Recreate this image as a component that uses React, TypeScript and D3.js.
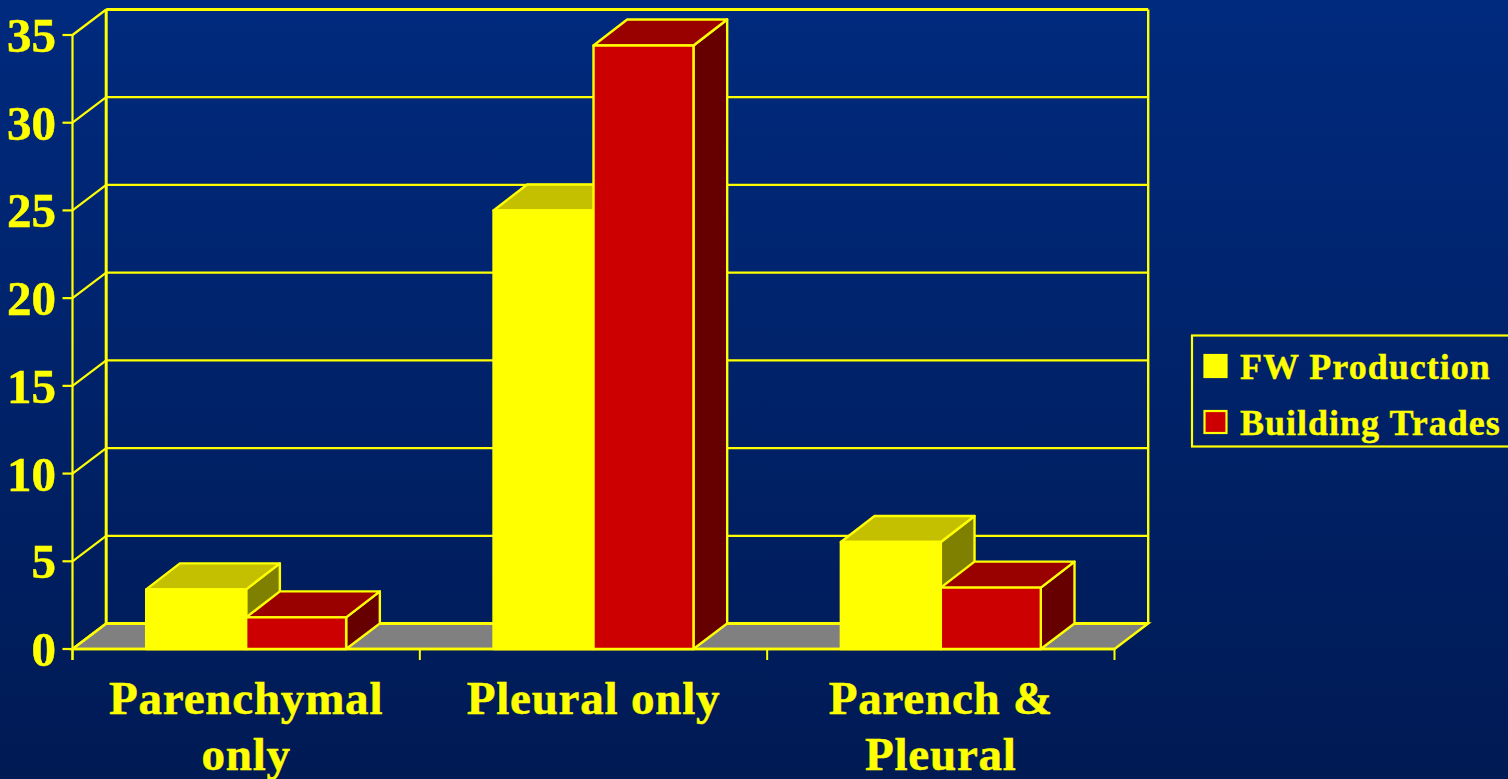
import React from "react";
import * as d3 from "d3";

const categories = ["Parenchymal only", "Pleural only", "Parench & Pleural"];
const categoryLines = [["Parenchymal", "only"], ["Pleural only"], ["Parench &", "Pleural"]];
const seriesNames = ["FW Production", "Building Trades"];
const fwProduction = [3.4, 25, 6.1];
const buildingTrades = [1.8, 34.4, 3.5];
const yTicks = [0, 5, 10, 15, 20, 25, 30, 35];

const W = 1508, H = 779;
const Y = "#ffff00";
const FONT = "'Liberation Serif', 'Times New Roman', serif";
const faces = [
  { front: "#ffff00", top: "#c4c000", side: "#808000" },
  { front: "#cc0000", top: "#990000", side: "#660000" },
];
const depthX = 33.7, depthY = -25.5, barDepthY = -26;

const x0 = d3.scaleBand<string>().domain(categories).range([72.5, 1114.5]);
const x1 = d3.scaleBand<string>().domain(seriesNames).range([0, x0.bandwidth()]).paddingInner(0).paddingOuter(0.737);
const y = d3.scaleLinear().domain([0, 35]).range([649, 35]);
const pts = (p: number[][]) => p.map((q) => q.join(",")).join(" ");

export default function App() {
  const values = [fwProduction, buildingTrades];
  const L = x0.range()[0], R = x0.range()[1];
  return (
    <svg width={W} height={H} viewBox={`0 0 ${W} ${H}`} style={{ position: "fixed", left: 0, top: 0, display: "block" }} fontFamily={FONT} fontWeight="bold">
      <defs>
        <linearGradient id="bg" x1="0" y1="0" x2="0" y2="1">
          <stop offset="0" stopColor="#002a7e" />
          <stop offset="1" stopColor="#001a54" />
        </linearGradient>
      </defs>
      <rect width={W} height={H} fill="url(#bg)" />

      {/* floor */}
      <polygon points={pts([[L, y(0)], [L + depthX, y(0) + depthY], [R + depthX, y(0) + depthY], [R, y(0)]])} fill="#808080" stroke={Y} strokeWidth={2.4} />

      {/* wall gridlines and side-wall connectors */}
      {yTicks.map((t) => (
        <g key={t}>
          <line x1={L} x2={L + depthX} y1={y(t)} y2={y(t) + depthY} stroke={Y} strokeWidth={2.2} />
          <line x1={L + depthX} x2={R + depthX} y1={y(t) + depthY} y2={y(t) + depthY} stroke={Y} strokeWidth={t === 35 || t === 0 ? 3.2 : 2.2} />
          <line x1={L - 10} x2={L} y1={y(t)} y2={y(t)} stroke={Y} strokeWidth={2.2} />
          <text x={56} y={y(t) + 17} textAnchor="end" fill={Y} stroke={Y} strokeWidth={0.5} fontSize={49}>{t}</text>
        </g>
      ))}
      <line x1={L + depthX} x2={L + depthX} y1={y(35) + depthY} y2={y(0) + depthY} stroke={Y} strokeWidth={3} />
      <line x1={R + depthX} x2={R + depthX} y1={y(35) + depthY} y2={y(0) + depthY} stroke={Y} strokeWidth={2.4} />
      <line x1={L} x2={L} y1={y(35)} y2={y(0) + 11} stroke={Y} strokeWidth={2.2} />
      <line x1={L} x2={R} y1={y(0)} y2={y(0)} stroke={Y} strokeWidth={2.4} />
      {[...categories.map((c) => x0(c)!), R].map((tx, i) => (
        <line key={i} x1={tx} x2={tx} y1={y(0)} y2={y(0) + 11} stroke={Y} strokeWidth={2} />
      ))}

      {/* bars */}
      {categories.map((c, ci) =>
        seriesNames.map((s, si) => {
          const xa = x0(c)! + x1(s)!;
          const xb = xa + x1.bandwidth();
          const yt = y(values[si][ci]);
          const yb = y(0);
          const f = faces[si];
          return (
            <g key={s + c} stroke={Y} strokeWidth={2.4} strokeLinejoin="round">
              <polygon points={pts([[xb, yb], [xb + depthX, yb + depthY], [xb + depthX, yt + barDepthY], [xb, yt]])} fill={f.side} />
              <polygon points={pts([[xa, yt], [xa + depthX, yt + barDepthY], [xb + depthX, yt + barDepthY], [xb, yt]])} fill={f.top} />
              <rect x={xa} y={yt} width={xb - xa} height={yb - yt} fill={f.front} />
            </g>
          );
        })
      )}

      {/* category labels */}
      {categories.map((c, i) =>
        categoryLines[i].map((line, li) => (
          <text key={line} x={x0(c)! + x0.bandwidth() / 2} y={714 + li * 56} textAnchor="middle" fill={Y} stroke={Y} strokeWidth={0.5} fontSize={47} letterSpacing={0.8}>{line}</text>
        ))
      )}

      {/* legend */}
      <rect x={1192} y={335.5} width={330} height={111} fill="none" stroke={Y} strokeWidth={2.2} />
      {seriesNames.map((s, i) => (
        <g key={s}>
          <rect x={1204.5} y={355 + i * 56} width={22} height={22} fill={faces[i].front} stroke={Y} strokeWidth={2.2} />
          <text x={1240} y={379 + i * 56} fill={Y} stroke={Y} strokeWidth={0.4} fontSize={36} letterSpacing={1}>{s}</text>
        </g>
      ))}
    </svg>
  );
}
